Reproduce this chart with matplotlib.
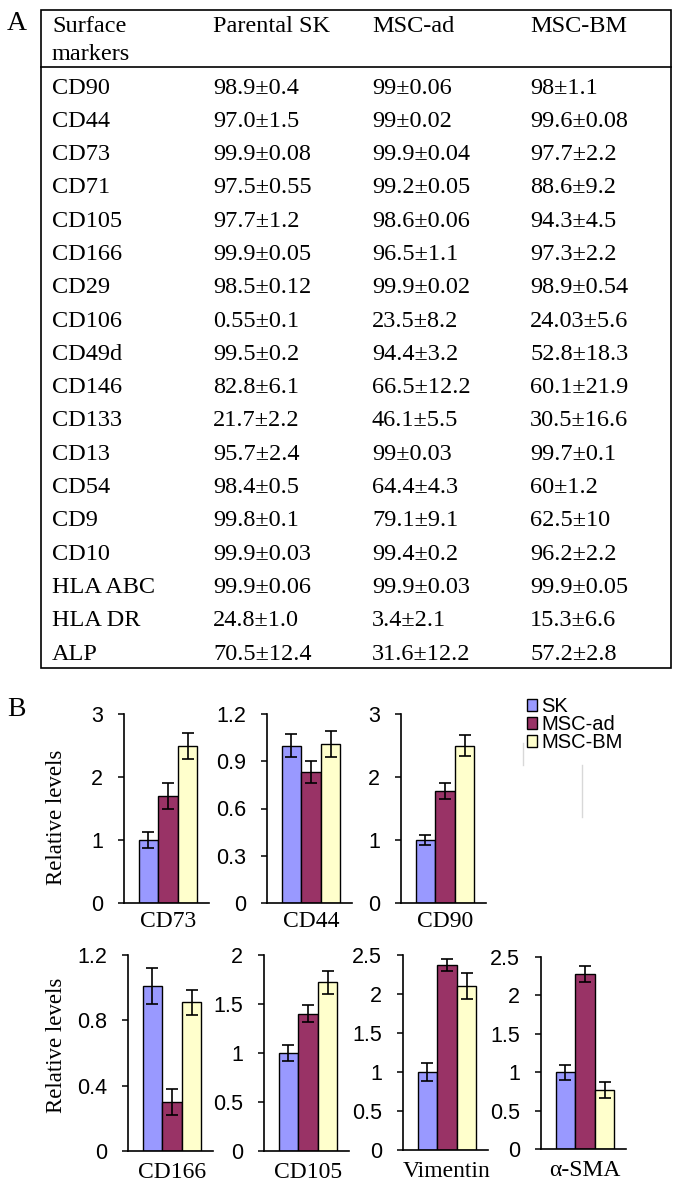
import matplotlib
matplotlib.use("Agg")
import matplotlib.pyplot as plt
from matplotlib.patches import Patch, Rectangle
from matplotlib.ticker import FuncFormatter
import numpy as np

# ---- panel A table ----
header = ["Surface\nmarkers", "Parental SK", "MSC-ad", "MSC-BM"]
markers = ["CD90", "CD44", "CD73", "CD71", "CD105", "CD166", "CD29", "CD106",
           "CD49d", "CD146", "CD133", "CD13", "CD54", "CD9", "CD10",
           "HLA ABC", "HLA DR", "ALP"]
parental_sk = ["98.9±0.4", "97.0±1.5", "99.9±0.08", "97.5±0.55", "97.7±1.2",
               "99.9±0.05", "98.5±0.12", "0.55±0.1", "99.5±0.2", "82.8±6.1",
               "21.7±2.2", "95.7±2.4", "98.4±0.5", "99.8±0.1", "99.9±0.03",
               "99.9±0.06", "24.8±1.0", "70.5±12.4"]
msc_ad = ["99±0.06", "99±0.02", "99.9±0.04", "99.2±0.05", "98.6±0.06",
          "96.5±1.1", "99.9±0.02", "23.5±8.2", "94.4±3.2", "66.5±12.2",
          "46.1±5.5", "99±0.03", "64.4±4.3", "79.1±9.1", "99.4±0.2",
          "99.9±0.03", "3.4±2.1", "31.6±12.2"]
msc_bm = ["98±1.1", "99.6±0.08", "97.7±2.2", "88.6±9.2", "94.3±4.5",
          "97.3±2.2", "98.9±0.54", "24.03±5.6", "52.8±18.3", "60.1±21.9",
          "30.5±16.6", "99.7±0.1", "60±1.2", "62.5±10", "96.2±2.2",
          "99.9±0.05", "15.3±6.6", "57.2±2.8"]

# ---- panel B bars ----
genes = ["CD73", "CD44", "CD90", "CD166", "CD105", "Vimentin", "α-SMA"]
groups = ["SK", "MSC-ad", "MSC-BM"]
sk_mean = [1.0, 1.0, 1.0, 1.01, 1.0, 1.0, 1.0]
sk_err = [0.13, 0.075, 0.08, 0.11, 0.08, 0.12, 0.10]
ad_mean = [1.70, 0.83, 1.78, 0.30, 1.40, 2.37, 2.28]
ad_err = [0.20, 0.07, 0.13, 0.08, 0.085, 0.08, 0.10]
bm_mean = [2.49, 1.01, 2.50, 0.91, 1.72, 2.10, 0.77]
bm_err = [0.21, 0.08, 0.17, 0.075, 0.12, 0.17, 0.10]
y_max = [3, 1.2, 3, 1.2, 2, 2.5, 2.5]
y_step = [1, 0.3, 1, 0.4, 0.5, 0.5, 0.5]

colors = ["#9999FF", "#993366", "#FFFFCC"]

W, H = 687, 1187
fig = plt.figure(figsize=(W / 100, H / 100), dpi=100)
SERIF = "Liberation Serif"
SANS = "Liberation Sans"

# background axes in pixel coordinates for the table and panel letters
bg = fig.add_axes([0, 0, 1, 1])
bg.set_xlim(0, W)
bg.set_ylim(H, 0)
bg.axis("off")

bg.text(7, 23, "A", fontsize=20, family=SERIF, va="center", ha="left")
bg.text(7, 710, "B", fontsize=20, family=SERIF, va="center", ha="left")

bg.add_patch(Rectangle((40.5, 10), 630, 658, fill=False, lw=1.2, color="black"))
bg.plot([40.5, 670.5], [67, 67], color="black", lw=1.2)

col_x = [52, 213, 372, 530]
tfs = 17.5
bg.text(col_x[0], 27, "Surface", fontsize=tfs, family=SERIF, va="center")
bg.text(col_x[0], 55, "markers", fontsize=tfs, family=SERIF, va="center")
for x, h in zip(col_x[1:], header[1:]):
    bg.text(x, 27, h, fontsize=tfs, family=SERIF, va="center")

row_y0, row_dy = 88, 33.3
for i, cells in enumerate(zip(markers, parental_sk, msc_ad, msc_bm)):
    y = row_y0 + i * row_dy
    for x, c in zip(col_x, cells):
        bg.text(x, y, c, fontsize=tfs, family=SERIF, va="center")

# faint scan lines near the legend
bg.plot([523, 523], [743, 765], color="#d8d8d8", lw=1)
bg.plot([582, 582], [765, 817], color="#d8d8d8", lw=1)

# bar axes placement (pixel)
lefts = [124, 267, 401, 128, 264, 403, 541]
rows = [(714, 903), (714, 903), (714, 903),
        (955, 1151), (955, 1151), (955, 1150), (957, 1149)]
ax_w = 85

fmt = FuncFormatter(lambda v, p: ("%g" % round(v, 2)))

for k, g in enumerate(genes):
    top, bot = rows[k]
    ax = fig.add_axes([lefts[k] / W, 1 - bot / H, ax_w / W, (bot - top) / H])
    means = [sk_mean[k], ad_mean[k], bm_mean[k]]
    errs = [sk_err[k], ad_err[k], bm_err[k]]
    ax.bar(range(3), means, width=1.0, color=colors, edgecolor="black",
           linewidth=1.0, yerr=errs, capsize=4.5,
           error_kw=dict(ecolor="black", elinewidth=1.2, capthick=1.2))
    ax.set_xlim(-1.25, 3.1)
    ax.set_ylim(0, y_max[k])
    ax.set_yticks(np.arange(0, y_max[k] + 1e-9, y_step[k]))
    ax.yaxis.set_major_formatter(fmt)
    ax.set_xticks([1])
    ax.set_xticklabels([g], family=SERIF, fontsize=17)
    ax.tick_params(axis="x", length=0, pad=6 if k < 3 else 8)
    ax.tick_params(axis="y", direction="out", length=4, width=1.1, pad=11,
                   labelsize=15.5)
    for lab in ax.get_yticklabels():
        lab.set_family(SANS)
    for s in ["top", "right"]:
        ax.spines[s].set_visible(False)
    for s in ["left", "bottom"]:
        ax.spines[s].set_linewidth(1.2)
    ax.patch.set_alpha(0)

fig.text(57 / W, 1 - 817 / H, "Relative levels", rotation=90, fontsize=16.5,
         family=SERIF, ha="center", va="center")
fig.text(57 / W, 1 - 1045 / H, "Relative levels", rotation=90, fontsize=16.5,
         family=SERIF, ha="center", va="center")

handles = [Patch(facecolor=c, edgecolor="black", linewidth=1.0) for c in colors]
leg = fig.legend(handles, groups, loc="upper left",
                 bbox_to_anchor=(527 / W, 1 - 697 / H), frameon=False,
                 prop=dict(family=SANS, size=14.5), handlelength=0.5,
                 handleheight=0.5, handletextpad=0.2, labelspacing=-0.05,
                 borderpad=0, borderaxespad=0)

fig.savefig("out.png", dpi=100)
